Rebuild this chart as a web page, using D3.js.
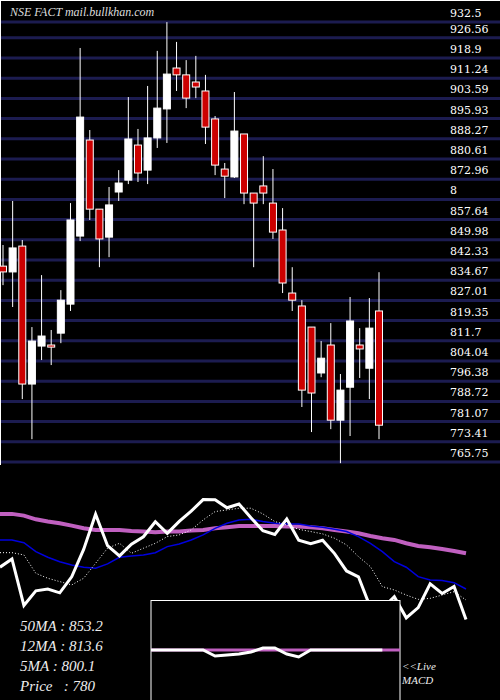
<!doctype html>
<html>
<head>
<meta charset="UTF-8">
<script src="https://d3js.org/d3.v7.min.js"></script>
<style>body{margin:0;background:#000}</style>
</head>
<body>
<svg width="500" height="700"></svg>
<script>
var open  = [840.0,837.8,847.6,795.3,809.7,810.1,814.6,825.6,851.4,887.8,861.6,851.0,868.1,872.6,885.9,876.4,888.6,899.6,915.1,912.5,909.8,906.4,895.8,876.8,873.8,890.1,867.7,870.4,863.9,853.7,829.8,824.9,816.9,799.5,810.1,781.6,794.1,810.1,801.3,823.0];
var close = [837.8,846.9,795.3,811.6,813.5,809.3,827.1,857.5,896.5,861.6,850.3,863.2,871.5,888.2,875.3,888.6,899.9,912.8,912.5,903.7,907.9,892.7,878.3,874.1,891.2,867.7,863.9,867.7,852.9,833.6,827.1,793.0,791.9,805.1,781.6,793.0,819.2,808.6,816.5,779.7];
var high  = [848.0,864.7,849.9,816.9,836.6,815.8,830.9,863.9,922.7,891.6,861.6,870.0,876.4,904.1,892.0,908.3,921.6,932.5,925.0,918.1,919.7,912.5,896.9,879.1,906.0,890.1,867.7,881.7,876.8,862.0,839.6,827.1,816.9,811.6,818.4,799.1,828.3,816.5,827.9,837.7];
var low   = [832.8,824.5,789.6,774.4,804.4,802.5,810.8,823.0,849.5,857.5,839.6,843.4,864.7,871.1,871.9,871.1,884.8,886.7,906.4,899.9,903.7,886.3,874.5,865.8,873.4,863.5,839.6,863.5,850.3,829.8,823.0,786.6,777.1,797.9,778.2,765.3,775.6,797.6,789.6,774.4];
var ma50 = [896.9,896.9,895.0,890.9,888.4,886.5,883.9,880.9,879.1,879.1,879.1,878.0,877.3,876.5,877.3,877.3,878.4,879.1,880.9,882.1,883.5,883.5,883.5,883.5,882.8,882.8,882.1,880.9,879.1,877.3,875.4,872.4,869.9,868.0,864.3,861.3,859.9,858.0,855.8,853.2];
var ma12 = [868.0,868.0,865.0,855.1,848.8,843.9,840.3,837.7,836.6,841.4,848.8,850.2,851.4,853.9,860.6,863.6,868.0,873.6,880.9,886.5,890.2,890.9,888.4,886.5,885.8,885.8,883.5,882.1,879.8,877.3,871.7,864.3,855.1,843.9,837.7,827.3,823.6,822.9,820.6,813.6];
var ma5  = [853.9,853.9,851.4,831.0,825.5,821.8,818.1,825.5,842.1,858.8,864.3,853.2,858.8,864.3,871.7,873.6,879.1,890.2,899.5,901.3,903.2,903.2,896.9,888.4,884.7,879.8,877.3,874.7,869.9,862.5,849.5,838.4,816.2,812.5,806.9,802.1,803.2,806.9,810.6,801.4];
var macdIdx = [13,14,15,16,17,18,19,20,21,22,23,24,25,26,27,28,29,30,31,32];
var macd    = [0,0,0,0,0,-6,-5,-4,-2,2,2,-4,-7,0,0,0,0,0,0,0];
var priceTicks = ["932.5","926.56","918.9","911.24","903.59","895.93","888.27","880.61","872.96","8","857.64","849.98","842.33","834.67","827.01","819.35","811.7","804.04","796.38","788.72","781.07","773.41","765.75"];
var tickVals = [932.5,926.56,918.9,911.24,903.59,895.93,888.27,880.61,872.96,865.3,857.64,849.98,842.33,834.67,827.01,819.35,811.7,804.04,796.38,788.72,781.07,773.41,765.75];
var legend = ["50MA : 853.2","12MA : 813.6","5MA : 800.1","Price   : 780"];

var svg = d3.select("svg");
svg.append("rect").attr("width",500).attr("height",700).attr("fill","#000");

var y = d3.scaleLinear().domain([765.75, 918.9]).range([462, 58]);
var x = d3.scaleLinear().domain([0, 39]).range([3, 379]);

// grid
svg.selectAll(".grid").data(tickVals).enter().append("line")
    .attr("x1",0).attr("x2",500)
    .attr("y1",function(d){return y(d);}).attr("y2",function(d){return y(d);})
    .attr("stroke","#1c1c50").attr("stroke-width",3);
svg.selectAll(".tick").data(priceTicks).enter().append("text")
    .attr("x",450).attr("y",function(d,i){return y(tickVals[i]) - 5;})
    .attr("fill","#fff").attr("font-family","DejaVu Serif, serif").attr("font-size",11)
    .text(function(d){return d;});
svg.append("line").attr("x1",0).attr("x2",500).attr("y1",0.5).attr("y2",0.5).attr("stroke","#fff");
svg.append("line").attr("x1",0.5).attr("x2",0.5).attr("y1",0).attr("y2",465).attr("stroke","#fff");
svg.append("text").attr("x",10).attr("y",16).attr("fill","#ddd")
    .attr("font-family","Liberation Serif, serif").attr("font-style","italic").attr("font-size",12)
    .text("NSE FACT mail.bullkhan.com");

// candles
var idx = d3.range(open.length);
svg.selectAll(".wick").data(idx).enter().append("line")
    .attr("x1",function(i){return x(i);}).attr("x2",function(i){return x(i);})
    .attr("y1",function(i){return y(high[i]);}).attr("y2",function(i){return y(low[i]);})
    .attr("stroke","#fff").attr("stroke-width",1);
svg.selectAll(".body").data(idx).enter().append("rect")
    .attr("x",function(i){return x(i) - 3.5;}).attr("width",7)
    .attr("y",function(i){return y(Math.max(open[i],close[i]));})
    .attr("height",function(i){return Math.max(2, Math.abs(y(open[i]) - y(close[i])));})
    .attr("fill",function(i){return close[i] >= open[i] ? "#fff" : "#cc0000";})
    .attr("stroke","#fff").attr("stroke-width",1);

// lower panel
var x2 = d3.scaleLinear().domain([0, 39]).range([0, 466]);
var y2 = d3.scaleLinear().domain([700, 900]).range([691.4, 511.1]);
var ln = function(arr){ return d3.line().x(function(d,i){return x2(i);}).y(function(d){return y2(d);})(arr); };
svg.append("path").attr("d",ln(ma50)).attr("fill","none").attr("stroke","#c060c0").attr("stroke-width",4);
svg.append("path").attr("d",ln(ma12)).attr("fill","none").attr("stroke","#0000dd").attr("stroke-width",1.5);
svg.append("path").attr("d",ln(ma5)).attr("fill","none").attr("stroke","#fff").attr("stroke-width",1).attr("stroke-dasharray","1,2");
svg.append("path").attr("d",ln(close)).attr("fill","none").attr("stroke","#fff").attr("stroke-width",3);

// macd box
svg.append("rect").attr("x",151).attr("y",600.5).attr("width",249).attr("height",110)
    .attr("fill","#000").attr("stroke","#fff").attr("stroke-width",1);
var ym = d3.scaleLinear().domain([-10, 10]).range([660, 640]);
svg.append("line").attr("x1",151).attr("x2",400).attr("y1",ym(0)).attr("y2",ym(0))
    .attr("stroke","#c060c0").attr("stroke-width",3);
svg.append("path").attr("d", d3.line().x(function(d,i){return x2(macdIdx[i]);}).y(function(d){return ym(d);})
    .curve(d3.curveLinear)(macd).replace(/^M[^L]*/, "M151," + ym(0) + "L" + x2(13) + "," + ym(0)))
    .attr("fill","none").attr("stroke","#fff").attr("stroke-width",3);

// legend
svg.selectAll(".leg").data(legend).enter().append("text")
    .attr("x",20).attr("y",function(d,i){return 631 + i*20;})
    .attr("fill","#eee").attr("font-family","Liberation Serif, serif").attr("font-style","italic").attr("font-size",15)
    .attr("xml:space","preserve").style("white-space","pre")
    .text(function(d){return d;});
svg.append("text").attr("x",402).attr("y",670).attr("fill","#eee").attr("font-family","Liberation Serif, serif")
    .attr("font-style","italic").attr("font-size",11).text("<<Live");
svg.append("text").attr("x",402).attr("y",684).attr("fill","#eee").attr("font-family","Liberation Serif, serif")
    .attr("font-style","italic").attr("font-size",11).text("MACD");
</script>
</body>
</html>
